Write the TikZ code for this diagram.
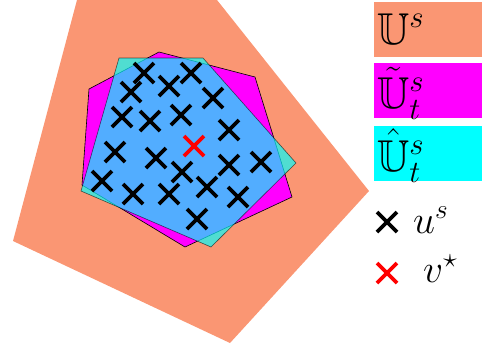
\documentclass[tikz,border=0pt]{standalone}
\usepackage{amssymb}
\usepackage{graphicx}
\definecolor{salm}{RGB}{250,150,115}
\definecolor{mag}{RGB}{255,0,255}
\definecolor{cya}{RGB}{0,255,255}
\tikzset{
  cross/.style={draw=black,line width=3.6pt},
  redcross/.style={draw=red,line width=3.6pt},
  legbox/.style={minimum width=108pt,minimum height=55pt,inner sep=0pt},
  legtext/.style={anchor=base west,inner sep=0pt},
}
\newcommand{\xmark}[3]{\path[#1] (#2-10,#3-10) -- (#2+10,#3+10) (#2-10,#3+10) -- (#2+10,#3-10);}
\newcommand{\bigmath}[1]{\scalebox{1.9}{\huge$#1$}}
\newcommand{\boxmath}[1]{\scalebox{2.15}{\huge$#1$}}
\begin{document}
\begin{tikzpicture}[x=1pt,y=-1pt]
\useasboundingbox (0,0) rectangle (483,349);
% regions
\fill[salm] (77,0) -- (217,0) -- (369,191) -- (230,343) -- (13,241) -- cycle;
\filldraw[fill=mag,draw=black,line width=0.6pt] (159,52) -- (255,77) -- (292,197) -- (185,247) -- (82,185) -- (89,89) -- cycle;
\filldraw[fill=cya,fill opacity=0.68,draw=black,draw opacity=0.6,line width=0.6pt] (119,58) -- (203,58) -- (296,163) -- (211,247) -- (81,191) -- cycle;
% samples
\foreach \x/\y in {144/73,191/73,131/92,169/86,213/98,122/117,150/121,181/115,229/130,115/152,156/158,229/165,261/162,182/172,102/181,133/194,169/194,207/187,238/197,197/219}{
  \xmark{cross}{\x}{\y}
}
\xmark{redcross}{194}{146}
% legend
\node[legbox,fill=salm,anchor=north west] (l1) at (374,2) {};
\node[legbox,fill=mag,anchor=north west] (l2) at (374,63) {};
\node[legbox,fill=cya,anchor=north west] (l3) at (374,126) {};
\node[legtext] (t1) at (377,44) {\boxmath{\mathbb{U}^s}};
\node[legtext] (t2) at (377,108) {\boxmath{\tilde{\mathbb{U}}^s_t}};
\node[legtext] (t3) at (377,171) {\boxmath{\hat{\mathbb{U}}^s_t}};
\xmark{cross}{387}{222}
\xmark{redcross}{387}{273}
\node[legtext] (t4) at (413,233) {\bigmath{u^s}};
\node[legtext] (t5) at (423,282) {\bigmath{v^\star}};
\end{tikzpicture}
\end{document}
